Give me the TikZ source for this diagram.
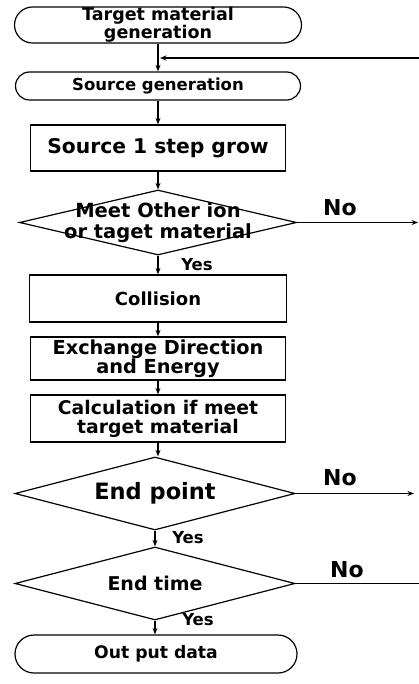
\documentclass[tikz,border=0pt]{standalone}
\usepackage{fontspec}
\setmainfont{DejaVu Sans}
\usetikzlibrary{shapes.misc,shapes.geometric,arrows.meta}
\begin{document}
\begin{tikzpicture}[x=1pt,y=-1pt,
 every node/.style={font=\bfseries\fontsize{18}{19}\selectfont, align=center, inner sep=0pt},
 term/.style={draw, rounded rectangle, line width=1.2pt},
 proc/.style={draw, rectangle, line width=1.2pt},
 dec/.style={draw, diamond, line width=1.2pt},
 arr/.style={-{Stealth[length=6.5pt,width=5pt]}, line width=1.2pt},
 ln/.style={line width=1.2pt},
 lbl/.style={font=\bfseries\fontsize{16.5}{18}\selectfont},
 nolbl/.style={font=\bfseries\fontsize{22}{22}\selectfont}]
\path[use as bounding box] (0,0) rectangle (419,684);

\node[term, minimum width=287pt, minimum height=36pt, font=\bfseries\fontsize{17.5}{18}\selectfont] (t1) at (158,25) {Target material\\generation};
\node[term, minimum width=285pt, minimum height=28pt, font=\bfseries\fontsize{16.5}{18}\selectfont] (t2) at (158,86) {Source generation};
\node[proc, minimum width=255pt, minimum height=46pt, font=\bfseries\fontsize{20.3}{21}\selectfont] (s1) at (158,148) {Source 1 step grow};
\node[dec, minimum width=277pt, minimum height=65pt,
  label={[font=\bfseries\fontsize{19.5}{21}\selectfont]center:Meet Other ion\\or taget material}] (d1) at (158,222.5) {};
\node[proc, minimum width=257pt, minimum height=47pt] (c1) at (158,298.5) {Collision};
\node[proc, minimum width=255pt, minimum height=43pt, font=\bfseries\fontsize{19.3}{19}\selectfont] (ex) at (158,358.5) {Exchange Direction\\and Energy};
\node[proc, minimum width=255pt, minimum height=47pt, font=\bfseries\fontsize{18.8}{19}\selectfont] (ca) at (158,418.5) {Calculation if meet\\target material};
\node[dec, minimum width=280pt, minimum height=73pt,
  label={[font=\bfseries\fontsize{22.5}{22}\selectfont]center:End point}] (d2) at (155,493.5) {};
\node[dec, minimum width=280pt, minimum height=73pt,
  label={[font=\bfseries\fontsize{19}{20}\selectfont]center:End time}] (d3) at (155,583.5) {};
\node[term, minimum width=282pt, minimum height=38pt, font=\bfseries\fontsize{17.2}{18}\selectfont] (out) at (156,654) {Out put data};

\coordinate (loopR) at (419,58);
\coordinate (no1) at (418,222.5);
\coordinate (no2) at (414,493.5);
\coordinate (no3) at (419,583.5);
\coordinate (join) at (160,58);

\draw[arr] (t1.south) -- (t2.north);
\draw[arr] (loopR) -- (join);
\draw[arr] (t2.south) -- (s1.north);
\draw[arr] (s1.south) -- (d1.north);
\draw[arr] (d1.south) -- (c1.north);
\draw[arr] (c1.south) -- (ex.north);
\draw[arr] (ex.south) -- (ca.north);
\draw[arr] (ca.south) -- (ca.south |- d2.north);
\draw[arr] (d2.south) -- (d3.north);
\draw[arr] (d3.south) -- (d3.south |- out.north);
\draw[arr] (d1.east) -- (no1);
\draw[arr] (d2.east) -- (no2);
\draw[ln] (d3.east) -- (no3);

\node[nolbl] (n1) at (340,208) {No};
\node[nolbl] (n2) at (340,478) {No};
\node[nolbl] (n3) at (347,570) {No};
\node[lbl] (y1) at (197,265) {Yes};
\node[lbl] (y2) at (188,538) {Yes};
\node[lbl] (y3) at (198,620) {Yes};
\end{tikzpicture}
\end{document}
